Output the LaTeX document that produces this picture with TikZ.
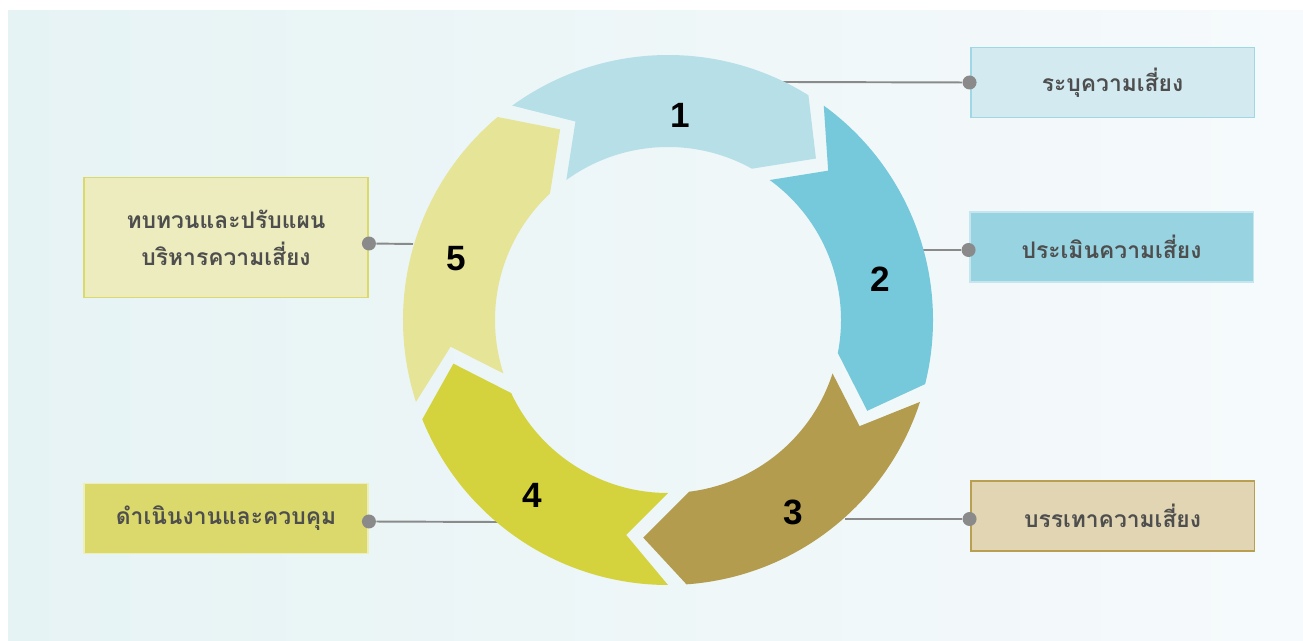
\documentclass[tikz,border=0pt]{standalone}
\usepackage{fontspec}
\setmainfont{Liberation Sans}
\newfontfamily\thaifont[Script=Thai]{Loma}
\definecolor{bgleft}{HTML}{E6F3F4}
\definecolor{bgright}{HTML}{F6FAFC}
\definecolor{segA}{HTML}{B6DFE8}
\definecolor{segB}{HTML}{76C8DB}
\definecolor{segC}{HTML}{B39C4D}
\definecolor{segD}{HTML}{D4D33E}
\definecolor{segE}{HTML}{E6E497}
\definecolor{boxA}{HTML}{D2EAF0}
\definecolor{boxAline}{HTML}{9ED8E4}
\definecolor{boxB}{HTML}{98D3E2}
\definecolor{boxBline}{HTML}{C5E6EF}
\definecolor{boxC}{HTML}{E2D5B3}
\definecolor{boxCline}{HTML}{B8A050}
\definecolor{boxD}{HTML}{DBD96B}
\definecolor{boxDline}{HTML}{EEEEB8}
\definecolor{boxE}{HTML}{EDECBE}
\definecolor{boxEline}{HTML}{DAD96A}
\definecolor{linegray}{HTML}{8A8A8A}
\definecolor{textgray}{HTML}{4E4E4E}
\begin{document}
\begin{tikzpicture}[x=0.02cm,y=-0.02cm,
    box/.style={rectangle, line width=1.1pt, minimum width=5.68cm, minimum height=1.4cm,
      inner sep=0pt, align=center, text=textgray, font=\thaifont\bfseries\fontsize{13}{21}\selectfont},
    dot/.style={circle, fill=linegray, inner sep=0pt, minimum size=0.28cm},
    link/.style={linegray, line width=1.1pt},
    num/.style={font=\bfseries\fontsize{20}{24}\selectfont}]
  \useasboundingbox (0,0) rectangle (1303,641);
  \shade[left color=bgleft, right color=bgright] (8,11) rectangle (1303,641);
  % boxes
  \node[box, fill=boxA, draw=boxAline] (box1) at (1112.5,82.5) {ระบุความเสี่ยง};
  \node[box, fill=boxB, draw=boxBline] (box2) at (1111.5,247) {ประเมินความเสี่ยง};
  \node[box, fill=boxC, draw=boxCline] (box3) at (1112.5,516) {บรรเทาความเสี่ยง};
  \node[box, fill=boxD, draw=boxDline] (box4) at (226,518.5) {ดำเนินงานและควบคุม};
  \node[box, fill=boxE, draw=boxEline, minimum height=2.4cm] (box5) at (226,237.5)
    {ทบทวนและปรับแผน\\บริหารความเสี่ยง};
  \coordinate (end1) at (783,82);
  \coordinate (end2) at (918,250);
  \coordinate (end3) at (845,519);
  \coordinate (end4) at (498,522);
  \coordinate (end5) at (413,244);
  \node[dot] (dot1) at (box1.west) {};
  \node[dot] (dot2) at ([yshift=-0.06cm]box2.west) {};
  \node[dot] (dot3) at ([yshift=-0.06cm]box3.west) {};
  \node[dot] (dot4) at ([yshift=-0.06cm]box4.east) {};
  \node[dot] (dot5) at ([yshift=-0.12cm]box5.east) {};
  \foreach \i in {1,...,5}
    \draw[link] (end\i) -- (dot\i);
  % ring of arrows
  \begin{scope}[shift={(668,320)}, yscale=-1]
    \foreach \t/\c in {126/segA,54/segB,-18/segC,-90/segD,-162/segE}
      \fill[\c] (\t:265) arc[start angle=\t, end angle=\t-68, radius=265]
        -- (\t-78.5:219) -- (\t-65:173) arc[start angle=\t-65, end angle=\t, radius=173]
        -- (\t-11:219) -- cycle;
  \end{scope}
  \node[num] (n1) at (680,115) {1};
  \node[num] (n2) at (880,279) {2};
  \node[num] (n3) at (793,512) {3};
  \node[num] (n4) at (532,495) {4};
  \node[num] (n5) at (456,259) {5};
\end{tikzpicture}
\end{document}
